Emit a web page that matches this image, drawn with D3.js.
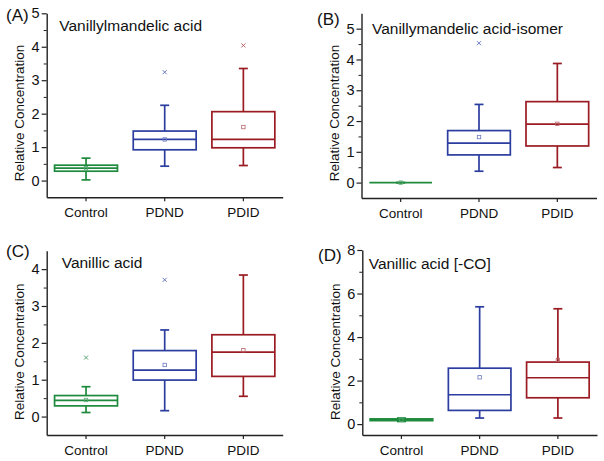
<!DOCTYPE html>
<html><head><meta charset="utf-8">
<script src="https://cdn.jsdelivr.net/npm/d3@7"></script>
<style>
body{margin:0;background:#fff;}
text{font-family:"Liberation Sans",Arial,sans-serif;}
</style></head>
<body><svg id="chart" width="604" height="461"></svg>
<script>
// ---- data ----
const categories = ["Control", "PDND", "PDID"];
const panelLetters = ["(A)", "(B)", "(C)", "(D)"];
const panelTitles = ["Vanillylmandelic acid", "Vanillymandelic acid-isomer", "Vanillic acid", "Vanillic acid [-CO]"];
const yDomains = [[-0.5, 5], [-0.5, 5.5], [-0.5, 4.5], [-0.5, 8]];
const majorTicks = [[0,1,2,3,4,5],[0,1,2,3,4,5],[0,1,2,3,4],[0,2,4,6,8]];
const minorTicks = [[0.5,1.5,2.5,3.5,4.5],[0.5,1.5,2.5,3.5,4.5],[0.5,1.5,2.5,3.5],[1,3,5,7]];
// per panel, per category
const whiskerLow  = [[0.02,0.43,0.45],[0,0.37,0.49],[0.11,0.16,0.55],[0.12,0.28,0.28]];
const q1          = [[0.28,0.92,0.98],[0,0.90,1.19],[0.29,0.99,1.09],[0.16,0.63,1.21]];
const median      = [[0.37,1.23,1.23],[0,1.28,1.90],[0.44,1.26,1.75],[0.20,1.35,2.13]];
const q3          = [[0.46,1.48,2.06],[0,1.69,2.63],[0.57,1.79,2.22],[0.24,2.57,2.85]];
const whiskerHigh = [[0.67,2.25,3.35],[0,2.54,3.87],[0.81,2.35,3.84],[0.28,5.39,5.30]];
const means       = [[0.37,1.23,1.60],[0,1.48,1.91],[0.45,1.40,1.80],[0.20,2.15,2.95]];
const outliers    = [[null,3.24,4.04],[null,4.53,null],[1.60,3.71,null],[null,null,null]];
const colors = ["#1e8a3c", "#2b3d9e", "#9a1b22"];
const meanColors = ["#5aa873", "#6a78c0", "#b8646a"];

// ---- layout ----
const panels = [
  {x0:46.7, x1:282.7, yTop:13.3, yBot:197.3, letter:[6,20.7], title:[59.3,30.5], ylab:[24,113]},
  {x0:361.5, x1:596.5, yTop:13.3, yBot:198, letter:[317,25], title:[372,34], ylab:[339,113]},
  {x0:46.7, x1:282.7, yTop:250.7, yBot:435, letter:[6,256.5], title:[61.7,268.3], ylab:[24,351.7]},
  {x0:362.3, x1:597, yTop:250, yBot:435, letter:[318,260.7], title:[368.7,269.3], ylab:[340,351.7]}
];

const svg = d3.select("#chart");
const axisColor = "#222";

panels.forEach((p, i) => {
  const g = svg.append("g");
  const x = d3.scaleBand().domain(categories).range([p.x0, p.x1]).padding(0);
  const y = d3.scaleLinear().domain(yDomains[i]).range([p.yBot, p.yTop]);
  const bw = x.bandwidth() * 0.8;
  const capW = 9;

  // y axis major
  const yAx = g.append("g").attr("transform", `translate(${p.x0},0)`)
    .call(d3.axisLeft(y).tickValues(majorTicks[i]).tickSize(5).tickPadding(2).tickFormat(d3.format("d")).tickSizeOuter(0));
  yAx.select(".domain").attr("stroke", axisColor).attr("stroke-width", 1.4);
  yAx.selectAll(".tick line").attr("stroke", axisColor).attr("stroke-width", 1.2);
  yAx.selectAll(".tick text").attr("font-size", 14.5).attr("fill", "#111")
     .style("font-family", "'Liberation Sans',Arial,sans-serif");
  // y axis minor
  const yMin = g.append("g").attr("transform", `translate(${p.x0},0)`)
    .call(d3.axisLeft(y).tickValues(minorTicks[i]).tickSize(3).tickFormat(""));
  yMin.select(".domain").remove();
  yMin.selectAll(".tick line").attr("stroke", axisColor).attr("stroke-width", 1);

  // x axis
  const xAx = g.append("g").attr("transform", `translate(0,${p.yBot})`)
    .call(d3.axisBottom(x).tickSize(4).tickPadding(6).tickSizeOuter(0));
  xAx.select(".domain").attr("stroke", axisColor).attr("stroke-width", 1.4);
  xAx.selectAll(".tick line").attr("stroke", axisColor).attr("stroke-width", 1.2);
  xAx.selectAll(".tick text").attr("font-size", 13.5).attr("fill", "#111")
     .style("font-family", "'Liberation Sans',Arial,sans-serif");

  // boxes
  categories.forEach((c, j) => {
    const cx = x(c) + x.bandwidth() / 2;
    const col = colors[j];
    const bg = g.append("g").attr("stroke", col).attr("fill", "none");
    const sw = 1.7;
    bg.append("line").attr("x1", cx).attr("x2", cx).attr("y1", y(q3[i][j])).attr("y2", y(whiskerHigh[i][j])).attr("stroke-width", sw);
    bg.append("line").attr("x1", cx).attr("x2", cx).attr("y1", y(q1[i][j])).attr("y2", y(whiskerLow[i][j])).attr("stroke-width", sw);
    [whiskerLow[i][j], whiskerHigh[i][j]].forEach(v => {
      bg.append("line").attr("x1", cx - capW / 2).attr("x2", cx + capW / 2).attr("y1", y(v)).attr("y2", y(v)).attr("stroke-width", sw);
    });
    bg.append("rect").attr("x", cx - bw / 2).attr("width", bw)
      .attr("y", y(q3[i][j])).attr("height", Math.max(0, y(q1[i][j]) - y(q3[i][j])))
      .attr("fill", "#fff").attr("stroke-width", sw);
    bg.append("line").attr("x1", cx - bw / 2).attr("x2", cx + bw / 2)
      .attr("y1", y(median[i][j])).attr("y2", y(median[i][j])).attr("stroke-width", sw);
    const m = means[i][j];
    bg.append("rect").attr("x", cx - 1.7).attr("y", y(m) - 1.7).attr("width", 3.4).attr("height", 3.4)
      .attr("stroke", meanColors[j]).attr("stroke-width", 0.8).attr("fill", "none");
    const o = outliers[i][j];
    if (o !== null) {
      const oy = y(o), s = 2;
      bg.append("path").attr("d", `M${cx - s},${oy - s}L${cx + s},${oy + s}M${cx - s},${oy + s}L${cx + s},${oy - s}`)
        .attr("stroke", meanColors[j]).attr("stroke-width", 1);
    }
  });

  g.append("text").attr("x", p.letter[0]).attr("y", p.letter[1]).attr("font-size", 17).attr("fill", "#111").text(panelLetters[i]);
  g.append("text").attr("x", p.title[0]).attr("y", p.title[1]).attr("font-size", 15.5).attr("fill", "#111").text(panelTitles[i]);
  g.append("text").attr("transform", `translate(${p.ylab[0]},${p.ylab[1]}) rotate(-90)`)
    .attr("text-anchor", "middle").attr("font-size", 13.5).attr("fill", "#111").text("Relative Concentration");
});
</script></body></html>
